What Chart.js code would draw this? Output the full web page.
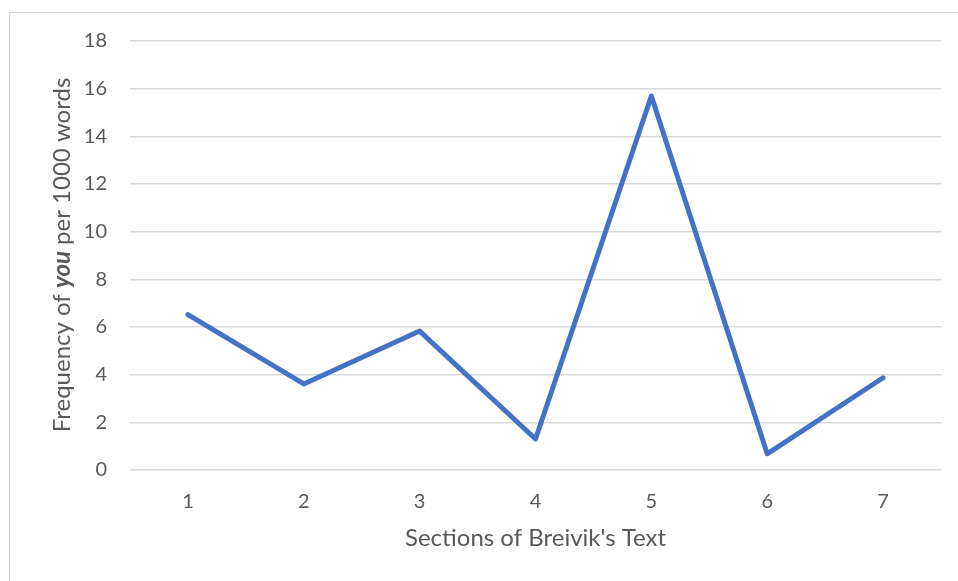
<!DOCTYPE html>
<html>
<head>
<meta charset="utf-8">
<script src="https://cdn.jsdelivr.net/npm/chart.js@4/dist/chart.umd.min.js"></script>
<style>
  html, body { margin: 0; padding: 0; background: #ffffff; width: 958px; height: 581px; overflow: hidden; }
  #frame { position: absolute; left: 9px; top: 12px; width: 1000px; height: 600px; border: 1px solid #d9d9d9; box-sizing: border-box; }
  #c { position: absolute; left: 0; top: 0; }
</style>
</head>
<body>
<div id="frame"></div>
<canvas id="c" width="958" height="581"></canvas>
<script>
const categories = ['1', '2', '3', '4', '5', '6', '7'];
const youFrequency = [6.52, 3.61, 5.83, 1.30, 15.69, 0.68, 3.87];
const yTickValues = [0, 2, 4, 6, 8, 10, 12, 14, 16, 18];
const xAxisTitle = "Sections of Breivik's Text";
const yTitleParts = [
  { text: 'Frequency of ', style: 'normal' },
  { text: 'you', style: 'italic bold' },
  { text: ' per 1000 words', style: 'normal' }
];

const FONT = "Lato, 'Open Sans', 'Liberation Sans', sans-serif";

const yTitlePlugin = {
  id: 'yTitle',
  afterDraw(chart) {
    const ctx = chart.ctx;
    ctx.save();
    const size = 24;
    const fonts = yTitleParts.map(p => p.style + ' ' + size + 'px ' + FONT);
    let total = 0;
    const widths = yTitleParts.map((p, i) => { ctx.font = fonts[i]; const w = ctx.measureText(p.text).width; total += w; return w; });
    const cx = 62, cy = 255;
    ctx.translate(cx, cy);
    ctx.rotate(-Math.PI / 2);
    ctx.fillStyle = '#595959';
    ctx.textBaseline = 'middle';
    ctx.textAlign = 'left';
    let x = -total / 2;
    yTitleParts.forEach((p, i) => { ctx.font = fonts[i]; ctx.fillText(p.text, x, 0); x += widths[i]; });
    ctx.restore();
  }
};

new Chart(document.getElementById('c'), {
  type: 'line',
  data: {
    labels: categories,
    datasets: [{
      label: 'you',
      data: youFrequency,
      borderColor: '#4472C4',
      borderWidth: 5,
      pointRadius: 0,
      tension: 0,
      fill: false,
      borderCapStyle: 'round',
      borderJoinStyle: 'round'
    }]
  },
  options: {
    responsive: false,
    animation: false,
    layout: { padding: { left: 0, top: 41, right: 17, bottom: 0 } },
    plugins: { legend: { display: false }, tooltip: { enabled: false } },
    scales: {
      x: {
        offset: true,
        grid: { display: false, drawTicks: false },
        border: { display: false },
        ticks: { color: '#595959', font: { family: FONT, size: 20 }, padding: 20 },
        title: { display: true, text: xAxisTitle, color: '#595959', font: { family: FONT, size: 24 }, padding: { top: 0, bottom: 28 } },
        afterFit(s) { s.height = 111; }
      },
      y: {
        min: 0, max: 18,
        afterBuildTicks(s) { s.ticks = yTickValues.map(v => ({ value: v })); },
        grid: { color: '#d9d9d9', lineWidth: 1.5, drawTicks: false },
        border: { display: false },
        ticks: { color: '#595959', font: { family: FONT, size: 20 }, padding: 23 },
        afterFit(s) { s.width = 130; }
      }
    }
  },
  plugins: [yTitlePlugin]
});
</script>
</body>
</html>
